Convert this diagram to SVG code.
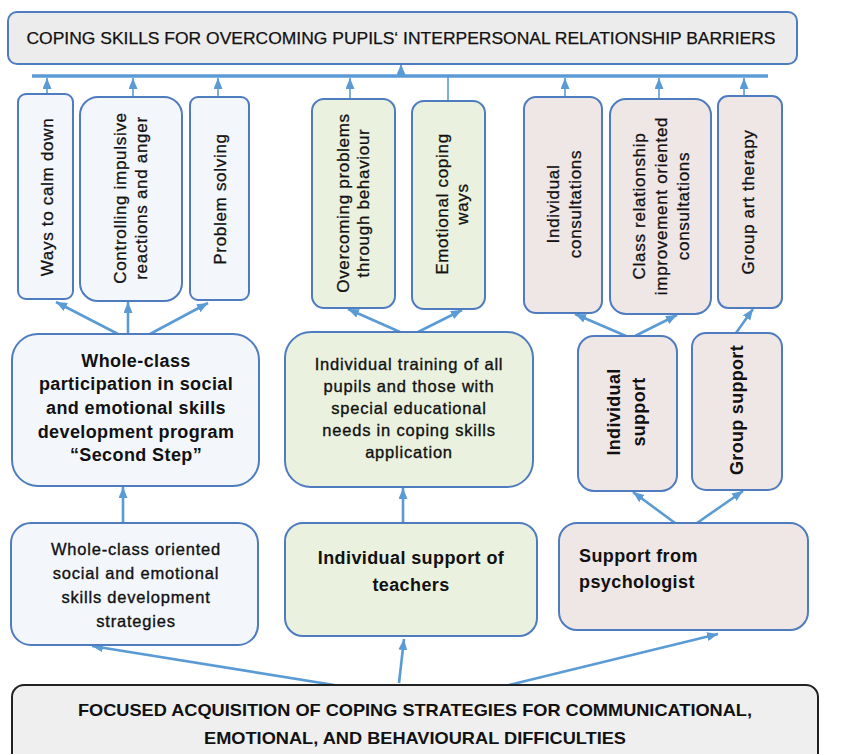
<svg xmlns="http://www.w3.org/2000/svg" width="846" height="754" viewBox="0 0 846 754">
<defs>
<marker id="ah" markerUnits="userSpaceOnUse" markerWidth="12" markerHeight="10" refX="11" refY="4.5" orient="auto" viewBox="0 0 12 10">
<path d="M0,0 L11,4.5 L0,9 z" fill="#5b9bd5"/>
</marker>
<style>
.blue{fill:#f3f7fc;stroke:#4f7bbf;stroke-width:2}
.green{fill:#ebf1df;stroke:#4f7bbf;stroke-width:2}
.pink{fill:#efe7e6;stroke:#4f7bbf;stroke-width:2}
.grey{fill:#ececec;stroke:#4f7bbf;stroke-width:2}
.dark{fill:#efefef;stroke:#222;stroke-width:2}
text{font-family:"Liberation Sans",Arial,sans-serif;fill:#111;text-anchor:middle}
.v{font-size:17px;letter-spacing:0.7px;stroke:#111;stroke-width:0.3}
.vb{font-size:18px;font-weight:bold;letter-spacing:0.3px}
.b{font-size:18px;font-weight:bold;letter-spacing:0.4px}
.r{font-size:16.5px;letter-spacing:0.8px;stroke:#111;stroke-width:0.35}
.c{stroke:#5b9bd5;stroke-width:1.6;fill:none}
.ca{stroke:#5b9bd5;stroke-width:1.6;fill:none;marker-end:url(#ah)}
.cb{stroke:#5b9bd5;stroke-width:2.6;fill:none;marker-end:url(#ah)}
</style>
</defs>

<g id="connectors">
<line x1="32" y1="76" x2="768" y2="76" stroke="#5b9bd5" stroke-width="3.5"/>
<line class="ca" x1="401" y1="76" x2="401" y2="64"/>
<line class="ca" x1="47" y1="94" x2="47" y2="78"/>
<line class="ca" x1="133" y1="97" x2="133" y2="78"/>
<line class="ca" x1="218" y1="97" x2="218" y2="78"/>
<line class="ca" x1="350" y1="99" x2="350" y2="78"/>
<line class="c" x1="448" y1="101" x2="448" y2="77"/>
<line class="ca" x1="565" y1="97" x2="565" y2="78"/>
<line class="ca" x1="659" y1="99" x2="659" y2="78"/>
<line class="ca" x1="744" y1="96" x2="744" y2="78"/>
<line class="cb" x1="118" y1="334" x2="56" y2="302"/>
<line class="cb" x1="128" y1="334" x2="128" y2="302"/>
<line class="cb" x1="150" y1="334" x2="208" y2="303"/>
<line class="cb" x1="400" y1="332" x2="348" y2="309"/>
<line class="cb" x1="418" y1="332" x2="462" y2="310"/>
<line class="cb" x1="626" y1="336" x2="575" y2="314"/>
<line class="cb" x1="635" y1="336" x2="677" y2="315"/>
<line class="cb" x1="736" y1="333" x2="753" y2="309"/>
<line class="cb" x1="123" y1="523" x2="123" y2="487"/>
<line class="cb" x1="403" y1="523" x2="403" y2="488"/>
<line class="cb" x1="675" y1="523" x2="633" y2="492"/>
<line class="cb" x1="697" y1="523" x2="743" y2="491"/>
<line class="cb" x1="334" y1="685" x2="92" y2="646"/>
<line class="cb" x1="399" y1="683" x2="404" y2="639"/>
<line class="cb" x1="509" y1="685" x2="718" y2="634"/>
</g>

<g id="title">
<rect class="grey" x="8" y="12" width="789" height="52" rx="9"/>
<text x="401" y="44" font-size="16.5" stroke="#111" stroke-width="0.25" textLength="749" lengthAdjust="spacingAndGlyphs">COPING SKILLS FOR OVERCOMING PUPILS‘ INTERPERSONAL RELATIONSHIP BARRIERS</text>
</g>

<g id="ways-to-calm-down">
<rect class="blue" x="18" y="94" width="55" height="205" rx="8"/>
<text class="v" transform="translate(47,197) rotate(-90)" y="6">Ways to calm down</text>
</g>
<g id="controlling-impulsive">
<rect class="blue" x="80" y="97" width="102" height="204" rx="18"/>
<text class="v" transform="translate(131,198) rotate(-90)"><tspan x="0" y="-5">Controlling impulsive</tspan><tspan x="0" y="16">reactions and anger</tspan></text>
</g>
<g id="problem-solving">
<rect class="blue" x="190" y="97" width="59" height="203" rx="8"/>
<text class="v" transform="translate(220,199) rotate(-90)" y="6">Problem solving</text>
</g>
<g id="overcoming-problems">
<rect class="green" x="312" y="99" width="83" height="209" rx="12"/>
<text class="v" transform="translate(353,203) rotate(-90)"><tspan x="0" y="-4">Overcoming problems</tspan><tspan x="0" y="16">through behaviour</tspan></text>
</g>
<g id="emotional-coping">
<rect class="green" x="412" y="101" width="73" height="208" rx="12"/>
<text class="v" transform="translate(452,204) rotate(-90)"><tspan x="0" y="-4">Emotional coping</tspan><tspan x="0" y="16">ways</tspan></text>
</g>
<g id="individual-consultations">
<rect class="pink" x="524" y="97" width="78" height="216" rx="12"/>
<text class="v" transform="translate(564,204) rotate(-90)"><tspan x="0" y="-5">Individual</tspan><tspan x="0" y="17">consultations</tspan></text>
</g>
<g id="class-relationship">
<rect class="pink" x="610" y="99" width="101" height="215" rx="16"/>
<text class="v" transform="translate(661,206) rotate(-90)"><tspan x="0" y="-16">Class relationship</tspan><tspan x="0" y="6">improvement oriented</tspan><tspan x="0" y="28">consultations</tspan></text>
</g>
<g id="group-art-therapy">
<rect class="pink" x="718" y="96" width="64" height="212" rx="10"/>
<text class="v" transform="translate(748,202) rotate(-90)" y="6">Group art therapy</text>
</g>

<g id="whole-class-participation">
<rect class="blue" x="12" y="334" width="247" height="152" rx="26"/>
<text class="b"><tspan x="136" y="367">Whole-class</tspan><tspan x="136" y="390">participation in social</tspan><tspan x="136" y="414">and emotional skills</tspan><tspan x="136" y="438">development program</tspan><tspan x="136" y="461">“Second Step”</tspan></text>
</g>
<g id="individual-training">
<rect class="green" x="285" y="332" width="248" height="155" rx="26"/>
<text class="r"><tspan x="409" y="370">Individual training of all</tspan><tspan x="409" y="392">pupils and those with</tspan><tspan x="409" y="414">special educational</tspan><tspan x="409" y="436">needs in coping skills</tspan><tspan x="409" y="458">application</tspan></text>
</g>
<g id="individual-support">
<rect class="pink" x="578" y="336" width="99" height="155" rx="16"/>
<text class="vb" transform="translate(626,412) rotate(-90)"><tspan x="0" y="-6">Individual</tspan><tspan x="0" y="19">support</tspan></text>
</g>
<g id="group-support">
<rect class="pink" x="692" y="333" width="90" height="157" rx="14"/>
<text class="vb" transform="translate(737,410) rotate(-90)" y="6">Group support</text>
</g>

<g id="whole-class-oriented">
<rect class="blue" x="11" y="523" width="247" height="122" rx="20"/>
<text class="r"><tspan x="136" y="555">Whole-class oriented</tspan><tspan x="136" y="579">social and emotional</tspan><tspan x="136" y="603">skills development</tspan><tspan x="136" y="627">strategies</tspan></text>
</g>
<g id="individual-support-teachers">
<rect class="green" x="285" y="523" width="252" height="113" rx="18"/>
<text class="b" letter-spacing="0.7"><tspan x="411" y="564">Individual support of</tspan><tspan x="411" y="591">teachers</tspan></text>
</g>
<g id="support-psychologist">
<rect class="pink" x="559" y="523" width="249" height="107" rx="18"/>
<text class="b" style="text-anchor:start"><tspan x="579" y="562">Support from</tspan><tspan x="579" y="588">psychologist</tspan></text>
</g>

<g id="focused-acquisition">
<rect class="dark" x="12" y="685" width="806" height="80" rx="12"/>
<text font-size="17" font-weight="bold" textLength="674" lengthAdjust="spacingAndGlyphs" x="415" y="716">FOCUSED ACQUISITION OF COPING STRATEGIES FOR COMMUNICATIONAL,</text>
<text font-size="17" font-weight="bold" textLength="422" lengthAdjust="spacingAndGlyphs" x="415" y="744">EMOTIONAL, AND BEHAVIOURAL DIFFICULTIES</text>
</g>
</svg>
